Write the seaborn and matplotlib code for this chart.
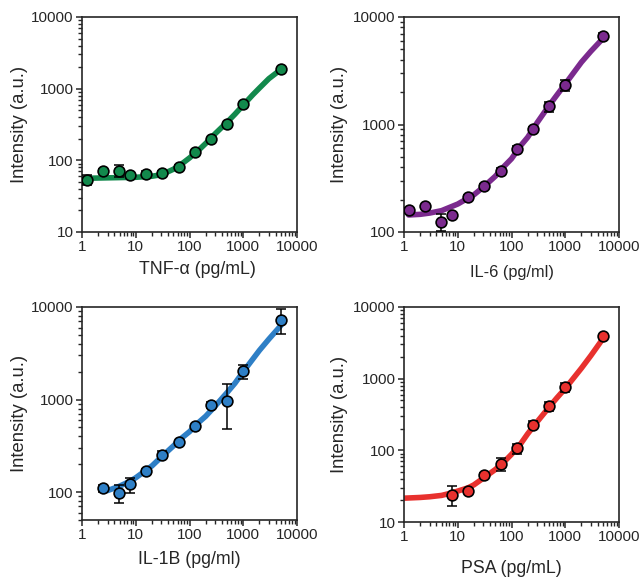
"""Four dose-response panels (TNF-a, IL-6, IL-1B, PSA) on log-log axes."""
import numpy as np
import matplotlib
matplotlib.use("Agg")
import matplotlib.pyplot as plt
import matplotlib.ticker as mticker
import seaborn as sns

# ---- data ---------------------------------------------------------------
TNF_X = [1.22, 2.44, 4.88, 7.8, 15.6, 31.25, 62.5, 125, 250, 500, 1000, 5000]
TNF_Y = [54, 72, 72, 62, 65, 67, 82, 131, 200, 318, 611, 1860]
TNF_ERR = [8, 3, 13, 3, 5, 3, 3, 4, 6, 10, 20, 40]
TNF_FIT_X = [1, 3, 10, 20, 30, 50, 70, 100, 150, 200, 300, 500, 700, 1000, 1500, 2000, 3000, 5000]
TNF_FIT_Y = [56, 57, 58, 60, 63, 75, 88, 108, 140, 172, 235, 340, 440, 590, 820, 1020, 1380, 1850]

IL6_X = [1.22, 2.44, 4.88, 7.8, 15.6, 31.25, 62.5, 125, 250, 500, 1000, 5000]
IL6_Y = [161, 173, 124, 143, 212, 266, 367, 596, 915, 1476, 2313, 6700]
IL6_ERR = [5, 5, 22, 5, 8, 16, 28, 30, 40, 160, 260, 380]
IL6_FIT_X = [1.22, 2, 3, 5, 10, 20, 30, 50, 70, 100, 150, 200, 300, 500, 700, 1000, 2000, 3000, 5000]
IL6_FIT_Y = [144, 146, 150, 158, 182, 222, 262, 330, 400, 480, 640, 760, 1040, 1500, 1880, 2380, 3800, 4800, 6300]

IL1B_X = [2.44, 4.88, 7.8, 15.6, 31.25, 62.5, 125, 250, 500, 1000, 5000]
IL1B_Y = [110, 97, 121, 171, 253, 344, 515, 876, 975, 2020, 7300]
IL1B_ERR = [10, 21, 22, 6, 25, 12, 20, 70, 490, 370, 2200]
IL1B_FIT_X = [3, 5, 7.8, 10, 20, 30, 50, 70, 100, 150, 200, 300, 500, 700, 1000, 2000, 3000, 5000]
IL1B_FIT_Y = [104, 116, 131, 143, 192, 240, 315, 380, 450, 570, 660, 850, 1190, 1500, 2000, 3400, 4500, 6300]

PSA_X = [7.8, 15.6, 31.25, 62.5, 125, 250, 500, 1000, 5000]
PSA_Y = [24, 27, 45, 64, 107, 228, 411, 757, 3890]
PSA_ERR = [7.5, 2, 3, 13, 17, 25, 55, 100, 150]
PSA_FIT_X = [1, 2, 3, 5, 7.8, 10, 15.6, 20, 30, 50, 70, 100, 150, 200, 300, 500, 700, 1000, 2000, 3000, 5000]
PSA_FIT_Y = [21.5, 22, 22.5, 23.5, 25.5, 27, 30, 33, 41, 54, 67, 88, 125, 170, 250, 400, 540, 730, 1400, 2100, 3600]

X_TICKS = [1, 10, 100, 1000, 10000]
X_TICK_LABELS = ["1", "10", "100", "1000", "10000"]

GREEN = "#12894c"
PURPLE = "#7b2a8e"
BLUE = "#2e7fc6"
RED = "#e8312e"


def draw_panel(ax, x, y, err, fx, fy, color, xlabel, ylim, yticks,
               xlabel_size=12.8, xlabel_pad=6, ylabel_pad=2.5, xlabel_x=0.5):
    ax.set_xscale("log")
    ax.set_yscale("log")
    sns.lineplot(x=fx, y=fy, ax=ax, color=color, lw=4, sort=False, zorder=2)
    ax.errorbar(x, y, yerr=err, fmt="none", ecolor="black", elinewidth=1.1,
                capsize=3.6, capthick=1.1, zorder=3)
    sns.scatterplot(x=x, y=y, ax=ax, color=color, s=60, edgecolor="black",
                    linewidth=1.2, zorder=4)

    ax.set_xlim(1, 10000)
    ax.set_ylim(*ylim)
    ax.xaxis.set_major_locator(mticker.FixedLocator(X_TICKS))
    ax.xaxis.set_major_formatter(mticker.FixedFormatter(X_TICK_LABELS))
    ax.xaxis.set_minor_locator(mticker.LogLocator(base=10, subs=np.arange(2, 10), numticks=20))
    ax.xaxis.set_minor_formatter(mticker.NullFormatter())
    ax.yaxis.set_major_locator(mticker.FixedLocator(yticks))
    ax.yaxis.set_major_formatter(mticker.FixedFormatter([str(t) for t in yticks]))
    ax.yaxis.set_minor_locator(mticker.LogLocator(base=10, subs=np.arange(2, 10), numticks=20))
    ax.yaxis.set_minor_formatter(mticker.NullFormatter())

    ax.tick_params(which="major", direction="out", length=4.5, width=1.1,
                   labelsize=11, pad=1.5)
    ax.tick_params(which="minor", direction="out", length=3, width=1.0)
    for s in ax.spines.values():
        s.set_linewidth(1.2)
        s.set_visible(True)

    ax.set_xlabel(xlabel, fontsize=xlabel_size, labelpad=xlabel_pad)
    ax.xaxis.label.set_x(xlabel_x)
    ax.set_ylabel("Intensity (a.u.)", fontsize=13.3, labelpad=ylabel_pad)


def main():
    sns.set_style("ticks")
    plt.rcParams["font.family"] = ["Liberation Sans", "DejaVu Sans"]

    fig = plt.figure(figsize=(6.41, 5.79), dpi=100)
    W, H = 641, 579

    def box(l, t, r, b):
        return [l / W, 1 - b / H, (r - l) / W, (b - t) / H]

    ax1 = fig.add_axes(box(82, 17, 297, 232))
    ax2 = fig.add_axes(box(404, 17, 619, 232))
    ax3 = fig.add_axes(box(82, 307, 297, 520))
    ax4 = fig.add_axes(box(404, 307, 619, 522))

    draw_panel(ax1, TNF_X, TNF_Y, TNF_ERR, TNF_FIT_X, TNF_FIT_Y, GREEN,
               "TNF-\u03b1 (pg/mL)", (10, 10000), [10, 100, 1000, 10000],
               xlabel_pad=5, xlabel_x=0.535)
    draw_panel(ax2, IL6_X, IL6_Y, IL6_ERR, IL6_FIT_X, IL6_FIT_Y, PURPLE,
               "IL-6 (pg/ml)", (100, 10000), [100, 1000, 10000],
               xlabel_size=11.8, xlabel_pad=8, ylabel_pad=4)
    draw_panel(ax3, IL1B_X, IL1B_Y, IL1B_ERR, IL1B_FIT_X, IL1B_FIT_Y, BLUE,
               "IL-1B (pg/ml)", (50, 10000), [100, 1000, 10000],
               xlabel_pad=6)
    draw_panel(ax4, PSA_X, PSA_Y, PSA_ERR, PSA_FIT_X, PSA_FIT_Y, RED,
               "PSA (pg/mL)", (10, 10000), [10, 100, 1000, 10000],
               xlabel_pad=11, ylabel_pad=4)

    fig.savefig("out.png", dpi=100)
    plt.close(fig)


if __name__ == "__main__":
    main()
